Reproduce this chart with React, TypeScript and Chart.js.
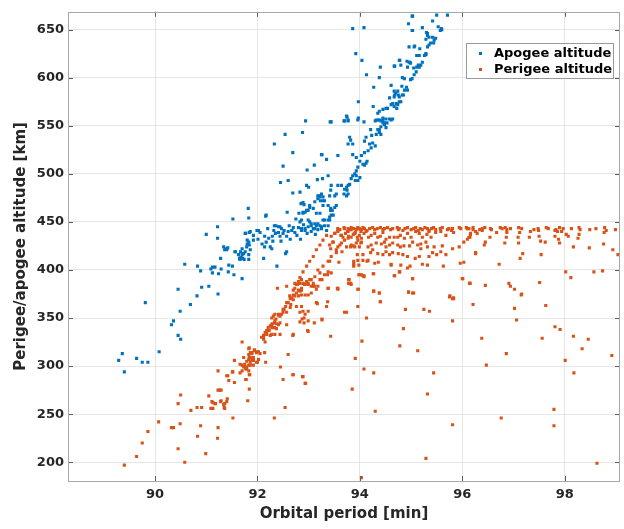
import React, { useEffect, useRef } from "react";
import { Chart, registerables } from "chart.js";
Chart.register(...registerables);

const xTickValues = [90, 92, 94, 96, 98];
const yTickValues = [200, 250, 300, 350, 400, 450, 500, 550, 600, 650];
const xTitle = "Orbital period [min]";
const yTitle = "Perigee/apogee altitude [km]";
const seriesNames = ["Apogee altitude", "Perigee altitude"];

// [orbital period (min), altitude (km)]
const apogee: [number, number][] = [
  [89.29,306],[89.36,313],[89.40,294],[89.64,308],[89.75,304],[89.86,304],[89.81,366],[90.08,315],[90.32,343],[90.36,347],
  [90.45,332],[90.50,328],[90.49,357],[90.45,380],[90.69,364],[90.82,373],[90.91,382],[91.05,383],[91.23,375],[90.58,406],
  [90.83,404],[90.89,399],[91.09,401],[91.12,403],[91.17,403],[91.12,397],[91.24,396],[91.29,401],[91.28,412],[91.43,398],
  [91.44,405],[91.51,404],[91.54,395],[91.70,391],[91.66,411],[91.68,413],[91.74,411],[91.83,411],[91.83,416],[91.70,416],
  [91.00,437],[91.22,445],[91.22,433],[91.52,453],[91.34,424],[91.36,421],[91.38,422],[91.42,423],[91.56,419],[91.63,416],
  [91.65,412],[91.67,419],[91.70,422],[91.71,412],[91.73,417],[91.76,419],[91.79,424],[91.80,427],[91.83,429],[91.84,426],
  [91.80,431],[91.77,438],[91.84,439],[91.92,436],[91.92,431],[92.02,441],[92.05,439],[92.14,435],[92.16,456],[92.09,427],
  [92.14,424],[92.12,412],[91.82,464],[91.83,454],[92.17,429],[92.25,424],[92.28,422],[92.29,435],[92.32,441],[92.33,446],
  [92.38,404],[92.36,446],[92.41,445],[92.44,445],[92.47,443],[92.41,439],[92.44,435],[92.50,438],[92.57,435],[92.60,440],
  [92.67,441],[92.73,439],[92.80,444],[92.86,443],[92.93,441],[92.55,417],[92.58,460],[92.75,453],[92.89,460],[92.96,462],
  [92.91,468],[93.12,471],[93.23,472],[93.28,476],[92.84,432],[92.99,445],[93.02,450],[93.05,446],[93.09,443],[93.12,448],
  [93.15,446],[93.18,442],[93.22,446],[93.25,443],[93.28,452],[93.31,446],[93.35,441],[93.38,446],[93.41,452],[93.44,457],
  [93.46,462],[93.43,464],[93.51,465],[93.54,467],[91.57,419],[91.76,438],[91.86,440],[91.99,441],[92.01,432],[91.86,421],
  [91.40,421],[92.57,419],[92.20,443],[92.35,438],[92.52,441],[92.62,446],[92.70,444],[92.77,436],[92.90,447],[92.97,438],
  [93.05,440],[93.13,437],[92.64,432],[92.46,430],[92.30,430],[92.22,433],
  [92.94,555],[93.44,554],[93.75,559],[93.77,556],[93.69,555],[93.97,558],[93.96,556],[94.08,554],[94.21,546],[94.30,555],
  [94.38,556],[94.45,558],[94.51,557],[94.58,557],[94.64,557],[94.45,553],[94.48,551],[94.51,548],[94.53,553],[94.35,546],
  [94.38,543],[94.41,541],[94.32,541],[94.23,540],[92.88,543],[93.80,538],[93.82,535],[93.77,531],[93.86,531],[94.12,538],
  [94.09,534],[94.19,531],[94.25,532],[94.30,529],[94.22,527],[94.16,524],[94.09,522],[94.03,519],[94.00,513],[93.93,517],
  [93.86,520],[93.25,520],[93.35,515],[93.57,519],[93.11,509],[93.38,498],[94.06,510],[94.09,509],[94.12,511],[94.14,513],
  [93.96,507],[93.93,503],[93.90,500],[93.86,498],[93.93,498],[94.00,496],[93.96,493],[93.91,493],[93.83,495],[93.80,489],
  [93.77,488],[93.74,486],[93.70,484],[93.75,483],[93.77,479],[93.74,477],[93.69,479],[93.64,488],[93.57,488],[93.54,479],
  [93.51,477],[93.44,488],[93.43,483],[93.41,477],[93.25,479],[93.22,476],[93.18,477],[93.28,472],[93.38,467],[93.44,462],
  [93.48,457],[93.41,455],[93.38,452],[93.31,452],[93.22,459],[93.15,459],[93.09,464],[93.02,465],[92.93,460],[92.89,459],
  [92.86,452],[92.83,450],[92.99,452],[93.05,448],[93.18,448],[93.25,445],[93.12,443],[92.93,443],[92.86,441],
  [95.02,664],[95.50,665],[95.71,665],[94.95,656],[95.42,659],[95.02,649],[95.22,652],[95.53,653],[95.57,649],[95.59,651],
  [93.86,651],[94.08,652],[95.32,646],[95.35,642],[95.29,640],[95.42,642],[95.45,639],[95.38,636],[95.35,634],[95.32,632],
  [95.29,625],[95.26,623],[95.16,623],[94.96,632],[95.06,632],[95.11,623],[94.96,616],[94.99,615],[94.93,611],[95.05,610],
  [95.11,611],[95.16,611],[95.22,616],[95.19,613],[94.67,612],[94.77,618],[94.80,613],[94.40,611],[93.92,625],[94.04,618],
  [94.13,603],[94.38,600],[94.27,590],[93.97,575],[94.26,570],[94.83,600],[94.87,599],[94.99,598],[95.06,603],[94.61,592],
  [94.67,586],[94.70,584],[94.77,580],[94.83,582],[94.87,587],[94.67,580],[94.58,579],[94.80,575],[94.74,572],[94.67,570],
  [94.61,572],[94.54,568],[94.45,567],[94.38,565],[94.35,563],[94.32,556],[94.45,556],[94.48,553],[94.41,549],[94.38,546],
  [93.74,560],[93.77,555],[93.70,555],[93.42,554],[92.54,541],[92.33,531],[92.69,522],[93.26,520],[92.50,508],[92.97,504],
  [92.45,491],[92.60,493],[93.17,494],[93.27,495],[92.69,480],[92.83,481],[92.96,488],[93.00,486],[92.85,469],[92.89,470],
  [92.81,459],[93.02,467],[92.99,462],[93.22,477],[93.18,474],[93.31,472],[93.28,467],[93.43,462],[92.17,457],
  [95.07,633],[95.17,630],[95.44,636],[95.48,641],[95.32,644],[95.30,647],[95.60,650],[95.03,664],[95.03,649],[94.78,618],
  [94.92,617],[94.98,616],[94.68,612],[95.14,613],[95.29,624],[95.10,606],[95.02,599],[94.82,591],[94.91,590],[94.93,587],
  [94.74,586],[94.68,582],[94.75,582],[94.85,582],[94.64,573],[94.71,573],[94.77,575],[94.72,568],[94.51,568],[94.36,556],
  [94.61,556],[94.41,555]
];

const perigee: [number, number][] = [
  [91.70,325],[91.84,319],[91.89,314],[91.94,317],[92.00,315],[91.73,309],[91.84,309],[91.92,307],[91.55,306],[91.66,302],
  [91.70,295],[91.66,293],[91.76,299],[91.79,297],[91.83,301],[91.86,304],[91.92,301],[92.00,304],[91.23,295],[91.40,290],
  [91.51,294],[91.84,291],[91.44,285],[91.55,283],[91.77,286],[91.84,276],[91.81,264],[90.50,270],[90.45,261],[90.70,254],
  [90.82,257],[90.91,257],[91.05,269],[91.09,256],[91.13,256],[91.11,263],[91.18,261],[91.29,264],[91.34,260],[91.35,257],
  [91.40,263],[91.41,266],[91.23,275],[91.29,275],[91.52,246],[90.07,242],[90.32,236],[90.36,236],[90.49,240],[90.89,238],
  [91.23,236],[89.86,232],[89.75,220],[89.64,206],[89.40,197],[90.45,214],[90.58,200],[90.83,227],[90.99,209],[91.22,225],
  [92.39,381],[92.57,383],[92.73,386],[92.76,385],[92.80,388],[92.83,386],[92.86,390],[92.89,386],[92.93,385],[92.96,388],
  [92.99,385],[93.02,390],[93.05,383],[93.09,386],[93.12,383],[93.18,383],[93.22,390],[93.26,390],[93.37,395],[93.38,381],
  [93.57,381],[92.73,381],[92.80,379],[92.83,378],[92.86,379],[92.76,376],[92.70,374],[92.67,371],[92.64,370],[92.70,369],
  [92.60,366],[92.65,364],[92.73,373],[92.80,373],[92.86,374],[92.93,374],[92.99,374],[93.05,376],[92.55,362],[92.52,359],
  [92.50,356],[92.47,354],[92.44,352],[92.41,353],[92.57,356],[92.64,361],[92.76,362],[92.86,362],[92.89,357],[92.83,356],
  [92.99,357],[92.93,354],[92.91,350],[92.87,349],[92.83,346],[92.91,345],[92.99,347],[93.11,345],[93.17,365],[93.26,348],
  [93.35,362],[93.43,331],[92.99,336],[92.69,332],[92.34,354],[92.31,352],[92.28,350],[92.36,349],[92.33,345],[92.29,344],
  [92.37,344],[92.41,343],[92.44,345],[92.25,342],[92.21,340],[92.28,340],[92.33,340],[92.37,339],[92.23,337],[92.18,336],
  [92.15,335],[92.18,333],[92.12,332],[92.08,330],[92.12,328],[92.15,325],[92.25,332],[92.28,333],[92.34,333],[92.44,333],
  [92.57,343],[91.83,318],[91.86,314],[91.83,312],[91.86,309],[91.89,313],[91.94,316],[91.98,314],[92.02,315],[92.05,313],
  [92.14,314],[91.92,309],[91.89,307],[91.83,307],[91.79,305],[91.75,302],[91.70,301],[91.73,299],[91.77,297],[91.79,299],
  [91.83,295],[91.86,301],[91.92,306],[91.98,304],[92.02,307],[92.16,304],[92.60,312],[92.45,299],[92.69,291],[92.88,289],
  [92.93,282],[92.50,286],[91.42,290],[91.52,294],[91.78,286],[91.26,275],[91.13,262],[91.17,261],[91.28,263],[91.36,261],
  [91.36,256],[92.54,257],[93.38,381],[93.56,381],[93.37,367],[93.15,366],[93.26,349],[92.98,337],[92.70,333],[92.70,291],
  [92.89,289],[92.94,282],[92.33,246],[91.85,291],[93.91,308],[94.08,297],[94.27,293],[93.85,276],[94.30,253],[94.03,184],
  [95.29,204],[94.04,326],[94.13,350],[94.85,339],[94.78,321],[95.13,316],[95.44,293],[95.32,271],[94.89,359],[95.25,359],
  [95.36,357],[93.74,356],[93.70,356],[93.96,362],[93.97,380],[93.79,390],[93.78,386],[93.83,385],[93.98,395],[94.06,394],
  [94.08,393],[94.26,396],[94.38,376],[94.27,378],[94.40,367],[94.95,377],[95.03,376],[95.03,391],[93.88,409],[93.88,405],
  [93.98,405],[94.61,405],[94.80,405],[94.68,394],[94.78,398],
  [92.12,330],[92.18,337],[92.28,343],[92.34,347],[92.41,354],[92.50,359],[92.57,366],[92.63,373],[92.70,379],[92.78,385],
  [92.83,392],[92.89,398],[92.96,404],[93.02,409],[93.09,414],[93.15,421],[93.22,426],[93.28,431],[93.35,436],
  [92.86,381],[92.92,385],[92.99,386],[93.05,390],[93.12,393],[93.22,397],[93.31,395],[93.09,383],[93.15,380],[93.18,400],
  [93.28,404],[93.38,409],[93.44,414],[93.54,421],[93.57,424],[93.64,428],[93.41,426],[93.47,429],[93.70,431],[93.77,433],
  [93.83,426],[93.90,424],[93.96,431],[94.02,428],[93.44,435],[93.51,438],[93.64,436],[93.77,440],[93.90,438],[94.02,440],
  [93.57,442],[93.70,443],[93.83,442],[93.96,443],
  [93.57,443],[93.61,442],[93.69,444],[93.77,443],[93.80,442],[93.83,444],[93.88,443],[93.93,442],[93.96,444],[93.99,443],
  [94.03,442],[94.06,444],[94.09,443],[94.14,441],[94.19,443],[94.25,444],[94.29,442],[94.34,443],[94.40,444],[94.45,442],
  [94.48,443],[94.54,444],[94.60,442],[94.64,443],[94.73,444],[94.75,442],[94.77,443],[94.84,441],[94.88,443],[94.93,444],
  [95.00,442],[95.05,443],[95.09,444],[95.14,441],[95.18,443],[95.22,442],[95.27,444],[95.32,443],[95.35,441],[95.40,443],
  [95.44,444],[95.48,442],[95.57,443],[95.61,444],[95.71,442],[95.74,443],[95.81,443],[95.94,444],[95.97,443],[96.08,444],
  [96.13,443],[96.21,442],
  [93.51,438],[93.57,440],[93.63,436],[93.67,434],[93.72,438],[93.76,440],[93.78,435],[93.83,434],[93.87,437],[93.91,439],
  [93.95,434],[93.99,436],[94.03,433],[94.08,438],[94.12,440],[94.17,434],[94.22,436],[94.29,438],[94.35,434],[94.40,435],
  [94.45,439],[94.51,432],[94.58,434],[94.67,434],[94.74,434],[94.79,436],[94.87,433],[94.93,438],[95.00,434],[95.09,440],
  [95.16,438],[95.22,434],[95.31,437],[95.35,440],[95.39,434],[95.48,439],[95.58,440],[95.68,436],[95.79,441],[95.83,439],
  [96.03,429],[96.13,434],[96.16,438],[96.26,440],
  [93.48,429],[93.61,426],[93.74,424],[93.82,424],[93.87,425],[93.93,428],[93.99,424],[94.03,429],[94.16,424],[94.22,426],
  [94.32,428],[94.42,427],[94.48,429],[94.51,424],[94.58,426],[94.64,428],[94.74,426],[94.79,424],[94.86,425],[94.97,425],
  [95.03,429],[95.13,426],[95.19,427],[95.29,429],[95.32,424],[95.45,424],[95.61,425],[95.81,422],[95.94,424],
  [93.43,422],[93.54,418],[93.65,419],[93.95,416],[94.06,416],[94.16,410],[94.21,418],[94.25,421],[94.35,417],[94.45,416],
  [94.51,419],[94.58,416],[94.64,418],[94.75,417],[94.84,416],[94.93,414],[95.08,412],[95.16,414],[95.19,422],[95.35,414],
  [95.42,418],[95.50,416],[95.58,419],[95.68,416],[96.26,418],
  [93.41,409],[93.59,408],[93.88,407],[93.88,404],[93.96,410],[94.06,410],[94.14,409],[94.29,407],[94.36,408],[94.61,406],
  [94.77,398],[94.93,402],[94.98,404],[95.22,406],[95.32,405],[95.63,404],[95.96,407],[96.03,408],
  [93.38,398],[93.44,397],[93.99,395],[94.03,395],[94.08,394],[94.27,396],[94.67,394],[95.03,391],[93.78,390],[93.82,386],
  [93.57,380],[93.96,380],[94.27,378],[94.38,376],[94.95,377],[95.05,376],[94.40,367],[95.76,373],[95.83,371],[96.00,391],
  [96.15,386],
  [96.10,443],[96.21,444],[96.34,442],[96.39,443],[96.44,444],[96.55,443],[96.57,442],[96.74,444],[96.78,443],[96.84,444],
  [96.87,442],[96.94,443],[97.10,444],[97.16,443],[97.40,442],[97.48,443],[97.64,444],[97.68,443],[97.83,442],[97.90,444],
  [97.97,443],[98.13,443],[98.28,444],[98.49,442],[98.61,443],[98.78,444],[98.99,442],
  [96.16,437],[96.29,438],[96.39,441],[96.54,434],[96.67,439],[96.87,439],[96.86,434],[97.12,439],[97.09,434],[97.33,440],
  [97.31,434],[97.49,441],[97.50,435],[97.81,441],[97.86,440],[97.81,435],[97.94,440],[98.03,437],[98.07,435],[98.28,437],
  [98.77,439],[98.81,441],[98.30,442],
  [96.10,432],[96.15,434],[96.45,429],[96.43,426],[96.83,428],[97.10,428],[97.53,430],[97.62,429],[97.88,432],[97.90,428],
  [98.17,424],[98.26,433],[98.48,423],[98.76,427],[98.94,421],[99.04,416],
  [96.26,417],[96.72,406],[97.13,412],[97.18,417],[97.54,416],[98.02,398],[98.12,392],[98.57,398],[98.74,399],
  [96.15,386],[96.45,384],[96.91,386],[96.94,383],[97.02,380],[97.15,374],[97.51,387],
  [95.75,372],[95.81,370],[95.83,370],[95.81,347],[96.21,364],[96.38,329],[96.86,313],[96.47,301],[95.81,239],[96.76,246],
  [97.02,360],[97.06,348],[97.16,375],[97.63,363],[97.56,329],[97.81,341],[97.91,338],[98.17,331],[98.34,318],[98.46,328],
  [98.01,306],[98.18,293],[97.79,255],[97.79,238],[98.63,199],[98.92,311],[96.14,386],[96.01,391]
];

const BLUE = "#0072BD";
const ORANGE = "#D95319";
const FONT = "'DejaVu Sans', sans-serif";

const framePlugin = {
  id: "matlabFrame",
  afterDraw(chart: any) {
    const { ctx, chartArea: a, scales } = chart;
    ctx.save();
    ctx.strokeStyle = "#5e5e5e";
    ctx.lineWidth = 1;
    const tl = 5;
    xTickValues.forEach((v) => {
      const x = Math.round(scales.x.getPixelForValue(v)) + 0.5;
      ctx.beginPath();
      ctx.moveTo(x, a.bottom); ctx.lineTo(x, a.bottom - tl);
      ctx.moveTo(x, a.top); ctx.lineTo(x, a.top + tl);
      ctx.stroke();
    });
    yTickValues.forEach((v) => {
      const y = Math.round(scales.y.getPixelForValue(v)) + 0.5;
      ctx.beginPath();
      ctx.moveTo(a.left, y); ctx.lineTo(a.left + tl, y);
      ctx.moveTo(a.right, y); ctx.lineTo(a.right - tl, y);
      ctx.stroke();
    });
    ctx.strokeStyle = "#a8a8a8";
    ctx.strokeRect(Math.round(a.left) + 0.5, Math.round(a.top) + 0.5, Math.round(a.right - a.left) - 1, Math.round(a.bottom - a.top));
    const lx = 466.5, ly = 43.5, lw = 147, lh = 35;
    ctx.fillStyle = "#ffffff";
    ctx.fillRect(lx, ly, lw, lh);
    ctx.strokeStyle = "#9a9a9a";
    ctx.strokeRect(lx, ly, lw, lh);
    const colors = [BLUE, ORANGE];
    ctx.font = `bold 13px ${FONT}`;
    ctx.textBaseline = "middle";
    ctx.textAlign = "left";
    seriesNames.forEach((name, i) => {
      const cy = 53 + i * 16;
      ctx.fillStyle = colors[i];
      ctx.fillRect(479, cy - 1, 3, 3);
      ctx.fillStyle = "#000000";
      ctx.fillText(name, 494, cy + 1);
    });
    ctx.restore();
  },
};

export default function App() {
  const ref = useRef<HTMLCanvasElement>(null);
  useEffect(() => {
    document.body.style.margin = "0";
    const canvas = ref.current!;
    const chart = new Chart(canvas, {
      type: "scatter",
      data: {
        datasets: [
          {
            label: seriesNames[0],
            data: apogee.map(([x, y]) => ({ x, y })),
            backgroundColor: BLUE,
            borderWidth: 0,
            pointStyle: "rect",
            pointRadius: 2.2,
          },
          {
            label: seriesNames[1],
            data: perigee.map(([x, y]) => ({ x, y })),
            backgroundColor: ORANGE,
            borderWidth: 0,
            pointStyle: "rect",
            pointRadius: 2.2,
          },
        ],
      },
      options: {
        animation: false,
        responsive: false,
        devicePixelRatio: 1,
        layout: { padding: { top: 6, right: 1, left: 0, bottom: 0 } },
        plugins: { legend: { display: false }, tooltip: { enabled: false } },
        scales: {
          x: {
            type: "linear",
            min: 88.3,
            max: 99.08,
            afterBuildTicks: (s: any) => { s.ticks = xTickValues.map((v) => ({ value: v })); },
            afterFit: (s: any) => { s.height = 48; },
            grid: { color: "#e6e6e6", drawTicks: false },
            border: { display: false },
            ticks: { color: "#262626", font: { family: FONT, size: 13, weight: "bold" }, padding: 6, maxRotation: 0 },
            title: { display: true, text: xTitle, color: "#262626", font: { family: FONT, size: 15, weight: "bold" }, padding: { top: 6, bottom: 6 } },
          },
          y: {
            type: "linear",
            min: 180.5,
            max: 668.5,
            afterBuildTicks: (s: any) => { s.ticks = yTickValues.map((v) => ({ value: v })); },
            afterFit: (s: any) => { s.width = 68; },
            grid: { color: "#e6e6e6", drawTicks: false },
            border: { display: false },
            ticks: { color: "#262626", font: { family: FONT, size: 13, weight: "bold" }, padding: 4 },
            title: { display: true, text: yTitle, color: "#262626", font: { family: FONT, size: 15, weight: "bold" }, padding: { top: 12, bottom: 0 } },
          },
        },
      },
      plugins: [framePlugin],
    });
    return () => chart.destroy();
  }, []);
  return (
    <div style={{ width: 624, height: 529 }}>
      <canvas ref={ref} width={624} height={529} style={{ width: 624, height: 529 }} />
    </div>
  );
}
